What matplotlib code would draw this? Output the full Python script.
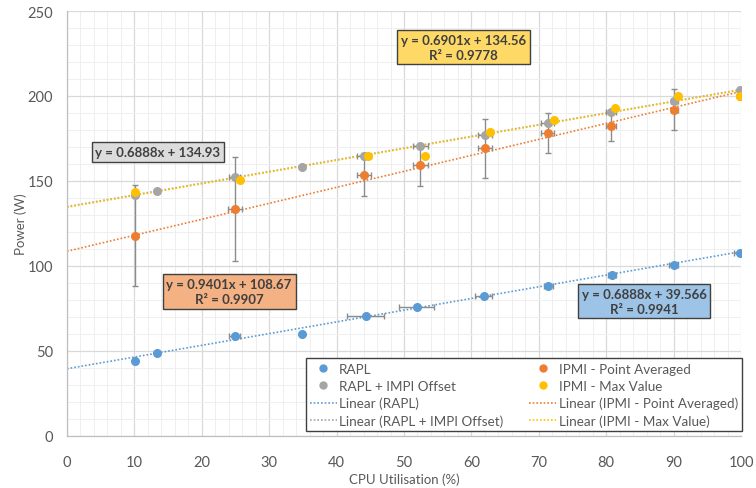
import matplotlib
matplotlib.use("Agg")
import matplotlib.pyplot as plt
from matplotlib.lines import Line2D
from matplotlib.ticker import MultipleLocator
import numpy as np

plt.rcParams['font.family'] = ['Lato', 'DejaVu Sans']

# ---------------- data ----------------
rapl_x = [10.1, 13.3, 24.9, 34.8, 44.3, 51.9, 61.8, 71.4, 80.9, 90.0, 99.85]
rapl_y = [44.2, 48.8, 58.7, 59.8, 70.6, 75.9, 82.5, 88.4, 94.7, 100.6, 107.5]
rapl_xerr = [0.3, 0.3, 0.8, 0.3, 2.7, 2.6, 1.3, 0.7, 0.6, 0.7, 0.9]
rapl_yerr = [0.8, 0.5, 1.0, 0.5, 1.0, 1.0, 0.5, 0.5, 0.5, 0.5, 0.5]

offset_x = [10.1, 13.3, 24.9, 34.8, 44.1, 52.4, 62.0, 71.3, 80.7, 90.1, 99.85]
offset_y = [141.8, 144.0, 152.2, 158.4, 164.9, 170.8, 177.0, 184.1, 190.4, 196.9, 203.7]
offset_xerr = [0.0, 0.0, 0.8, 0.0, 1.0, 1.1, 1.0, 1.0, 0.7, 0.5, 0.0]

avg_x = [10.1, 24.9, 44.1, 52.4, 62.0, 71.3, 80.7, 90.1, 99.85]
avg_y = [117.9, 133.6, 153.6, 159.3, 169.3, 178.0, 182.5, 192.0, 200.0]
avg_yerr = [29.8, 30.6, 12.6, 12.2, 17.4, 11.8, 9.2, 12.0, 0.0]
avg_xerr = [0.0, 1.0, 1.0, 1.1, 1.0, 1.0, 0.7, 0.5, 0.0]

max_x = [10.1, 25.6, 44.7, 53.1, 62.8, 72.2, 81.3, 90.6, 99.85]
max_y = [143.3, 150.8, 164.9, 164.9, 179.0, 185.9, 192.7, 200.2, 200.2]

# trendline coefficients (as displayed)
fit_slopes = [0.6888, 0.6888, 0.9401, 0.6901]
fit_intercepts = [39.566, 134.93, 108.67, 134.56]
fit_r2 = [0.9941, None, 0.9907, 0.9778]

series_names = ['RAPL', 'RAPL + IMPI Offset', 'IPMI - Point Averaged', 'IPMI - Max Value']
colors = ['#5b9bd5', '#a5a5a5', '#ed7d31', '#ffc000']

x_ticks = [0, 10, 20, 30, 40, 50, 60, 70, 80, 90, 100]
y_ticks = [0, 50, 100, 150, 200, 250]

# ---------------- figure ----------------
fig = plt.figure(figsize=(7.56, 4.89), dpi=100)
ax = fig.add_axes([67/756, 1-437/489, (741-67)/756, (437-12)/489])

ax.set_xlim(0, 100)
ax.set_ylim(0, 250)
ax.set_xticks(x_ticks)
ax.set_yticks(y_ticks)
ax.xaxis.set_minor_locator(MultipleLocator(2))
ax.yaxis.set_minor_locator(MultipleLocator(10))
ax.grid(which='major', color='#d9d9d9', lw=0.9, zorder=0)
ax.grid(which='minor', color='#efefef', lw=0.7, zorder=0)
ax.set_axisbelow(True)
for s in ['top', 'right']:
    ax.spines[s].set_visible(False)
for s in ['left', 'bottom']:
    ax.spines[s].set_color('#bfbfbf')
    ax.spines[s].set_linewidth(0.9)
ax.tick_params(which='both', length=0, labelsize=10.5, labelcolor='#595959')
ax.tick_params(axis='x', pad=14)
ax.tick_params(axis='y', pad=10)
ax.set_xlabel('CPU Utilisation (%)', fontsize=9.5, color='#595959', labelpad=2)
ax.set_ylabel('Power (W)', fontsize=9.5, color='#595959', labelpad=0)

dot = (0, (1, 1.2))
xs = np.array([0, 100])
for i in range(4):
    ax.plot(xs, fit_slopes[i] * xs + fit_intercepts[i], color=colors[i],
            ls=dot, lw=1.2, zorder=2)

eb_col = '#8c8c8c'
ms = 5.5
ax.errorbar(rapl_x, rapl_y, xerr=rapl_xerr, yerr=rapl_yerr, fmt='o', color=colors[0],
            ms=ms, ecolor=eb_col, elinewidth=1, capsize=2.5, zorder=3)
ax.errorbar(offset_x, offset_y, xerr=offset_xerr, fmt='o', color=colors[1],
            ms=ms, ecolor=eb_col, elinewidth=1, capsize=2.5, zorder=3)
ax.errorbar(avg_x, avg_y, xerr=avg_xerr, yerr=avg_yerr, fmt='o', color=colors[2],
            ms=ms, ecolor=eb_col, elinewidth=1, capsize=2.5, zorder=3)
ax.plot(max_x, max_y, 'o', color=colors[3], ms=ms, zorder=4)

# equation boxes
def eq(i, two=True):
    s = f"y = {fit_slopes[i]}x + {fit_intercepts[i]}"
    if two and fit_r2[i] is not None:
        s += f"\nR² = {fit_r2[i]}"
    return s

box_specs = [
    (0, 85.6, 79.4, '#9dc3e6'),
    (1, 13.5, 166.8, '#dcdcdc'),
    (2, 24.06, 85.0, '#f4b183'),
    (3, 58.8, 228.8, '#ffd966'),
]
for i, bx, by, fc in box_specs:
    ax.text(bx, by, eq(i), ha='center', va='center', fontsize=9.5, fontweight='bold',
            color='#404040', linespacing=1.3, zorder=6,
            bbox=dict(boxstyle='square,pad=0.3', fc=fc, ec='#404040', lw=1))

# legend
handles = [
    Line2D([], [], ls='none', marker='o', ms=5, color=colors[0]),
    Line2D([], [], ls='none', marker='o', ms=5, color=colors[1]),
    Line2D([], [], ls=dot, lw=1.2, color=colors[0]),
    Line2D([], [], ls=dot, lw=1.2, color=colors[1]),
    Line2D([], [], ls='none', marker='o', ms=5, color=colors[2]),
    Line2D([], [], ls='none', marker='o', ms=5, color=colors[3]),
    Line2D([], [], ls=dot, lw=1.2, color=colors[2]),
    Line2D([], [], ls=dot, lw=1.2, color=colors[3]),
]
labels = [series_names[0], series_names[1],
          f"Linear ({series_names[0]})", f"Linear ({series_names[1]})",
          series_names[2], series_names[3],
          f"Linear ({series_names[2]})", f"Linear ({series_names[3]})"]
leg = fig.legend(handles, labels, ncol=2, loc='lower right',
                 bbox_to_anchor=(742/756, 1-432/489), fontsize=9.7,
                 labelcolor='#595959', frameon=True, fancybox=False,
                 edgecolor='#404040', framealpha=1, borderaxespad=0,
                 handlelength=2.0, handletextpad=0.2, columnspacing=1.9,
                 labelspacing=0.38, borderpad=0.3)
leg.get_frame().set_linewidth(1)

fig.savefig('out.png', dpi=100)
